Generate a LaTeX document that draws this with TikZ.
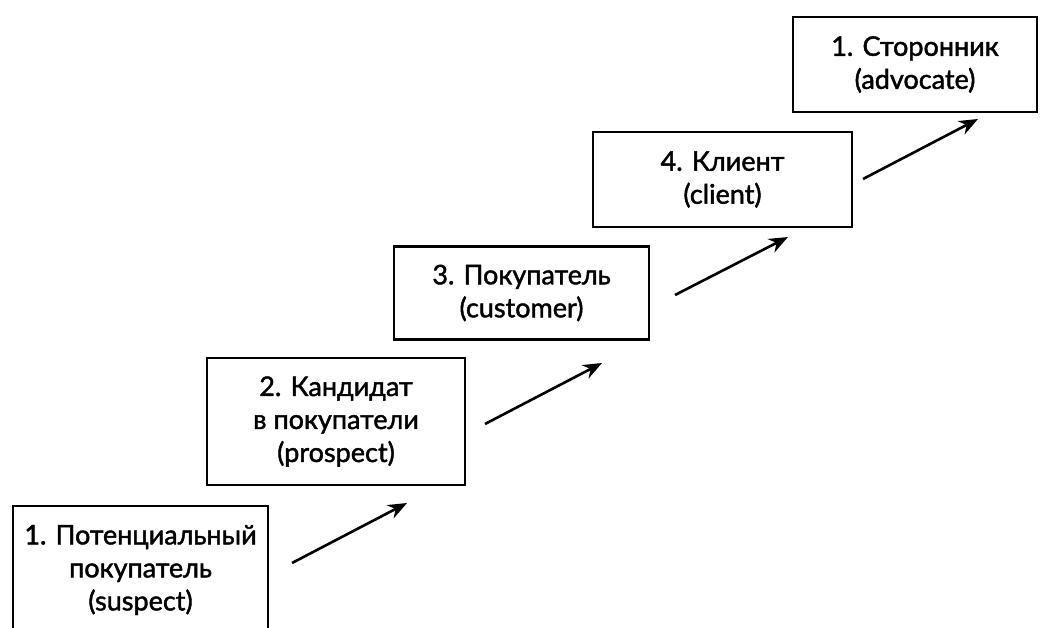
\documentclass[tikz,border=0pt]{standalone}
\usepackage{fontspec}
\setmainfont{Lato}[BoldFont={Lato}, BoldFeatures={FakeBold=1.6}]
\usetikzlibrary{arrows.meta}
\begin{document}
\begin{tikzpicture}[x=1pt,y=-1pt,
  stage/.style={draw=black, line width=2.2pt, rectangle, inner sep=0pt,
    align=center, font=\fontsize{27}{33}\selectfont\bfseries, text=black},
  flow/.style={line width=2.6pt, -{Stealth[length=19pt,width=15pt]}}]
\useasboundingbox (0,0) rectangle (1040,628);
\clip (0,0) rectangle (1040,628);
\fill[white] (0,0) rectangle (1040,628);

\node[stage, minimum width=255pt, minimum height=128pt] (s1) at (140.5,570) {1. Потенциальный\\покупатель\\(suspect)};
\node[stage, minimum width=258pt, minimum height=127pt] (s2) at (336,421.5) {2. Кандидат\\в покупатели\\(prospect)};
\node[stage, minimum width=255pt, minimum height=93pt] (s3) at (521.5,293) {3. Покупатель\\(customer)};
\node[stage, minimum width=259pt, minimum height=95pt] (s4) at (722.5,179.5) {4. Клиент\\(client)};
\node[stage, minimum width=244pt, minimum height=95pt] (s5) at (915,64.5) {1. Сторонник\\(advocate)};

\coordinate (a1s) at (292,563); \coordinate (a1e) at (407,503);
\coordinate (a2s) at (485,424); \coordinate (a2e) at (602,363);
\coordinate (a3s) at (675,295); \coordinate (a3e) at (788,237);
\coordinate (a4s) at (863,179); \coordinate (a4e) at (978,119);

\draw[flow] (a1s) -- (a1e);
\draw[flow] (a2s) -- (a2e);
\draw[flow] (a3s) -- (a3e);
\draw[flow] (a4s) -- (a4e);
\end{tikzpicture}
\end{document}
